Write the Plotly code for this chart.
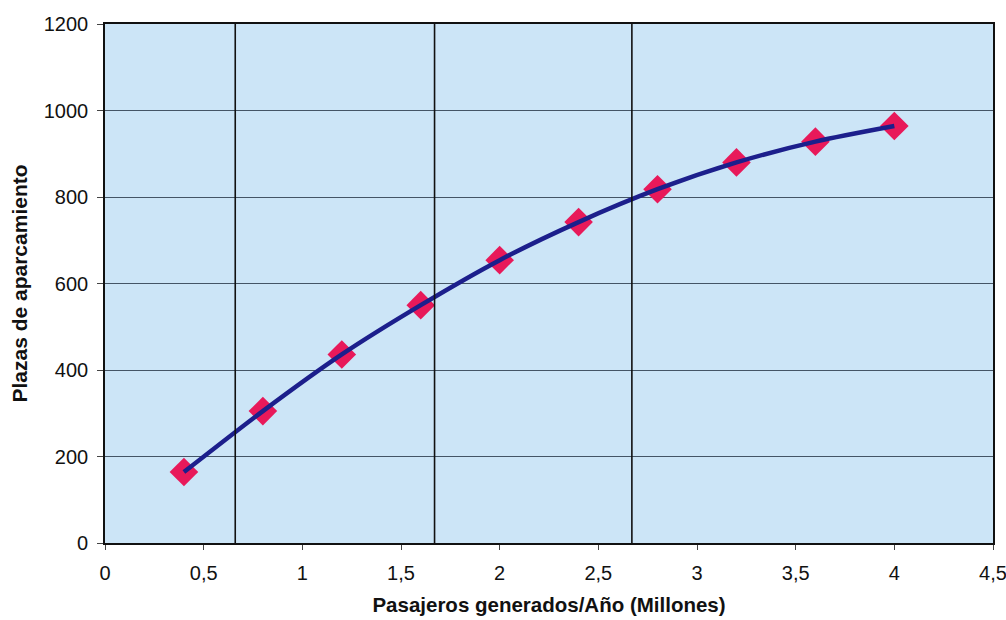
import plotly.graph_objects as go

pasajeros = [0.4, 0.8, 1.2, 1.6, 2.0, 2.4, 2.8, 3.2, 3.6, 4.0]
plazas = [164, 305, 436, 550, 654, 742, 818, 880, 928, 964]
x_ticks = [0, 0.5, 1, 1.5, 2, 2.5, 3, 3.5, 4, 4.5]
x_ticktext = ["0", "0,5", "1", "1,5", "2", "2,5", "3", "3,5", "4", "4,5"]
y_ticks = [0, 200, 400, 600, 800, 1000, 1200]
vlines = [0.66, 1.67, 2.67]

fig = go.Figure()
fig.add_trace(go.Scatter(
    x=pasajeros, y=plazas, mode="markers",
    marker=dict(symbol="diamond", size=22, color="#e8195a"),
    showlegend=False))
fig.add_trace(go.Scatter(
    x=pasajeros, y=plazas, mode="lines",
    line=dict(color="#1c1f8c", width=4.5, shape="spline", smoothing=0.8),
    showlegend=False, hoverinfo="skip"))

for v in vlines:
    fig.add_shape(type="line", xref="x", yref="paper", x0=v, x1=v, y0=0, y1=1,
                  line=dict(color="#111111", width=1.6), layer="above")

fig.update_layout(
    width=1006, height=620,
    margin=dict(l=105, r=13, t=24, b=77),
    paper_bgcolor="white", plot_bgcolor="#cce5f7",
    font=dict(family="Liberation Sans, Arial, sans-serif", color="#111111", size=20),
    xaxis=dict(range=[0, 4.5], tickvals=x_ticks, ticktext=x_ticktext,
               tickfont=dict(size=20), ticklabelstandoff=6, automargin=False,
               ticklabeloverflow="allow",
               showgrid=False, zeroline=False, showline=True, linecolor="#111111",
               linewidth=1.6, mirror=True, ticks="outside", ticklen=5,
               tickcolor="#444444",
               title=dict(text="<b>Pasajeros generados/Año (Millones)</b>",
                          font=dict(size=20.5), standoff=15)),
    yaxis=dict(range=[0, 1200], tickvals=y_ticks, tickfont=dict(size=20),
               ticklabelstandoff=5, automargin=False, ticklabeloverflow="allow",
               showgrid=True, gridcolor="#445566", gridwidth=0.8, zeroline=False,
               showline=True, linecolor="#111111", linewidth=1.6, mirror=True,
               ticks="outside", ticklen=6, tickcolor="#444444",
               title=dict(text="<b>Plazas de aparcamiento</b>",
                          font=dict(size=21), standoff=10)),
)

fig.write_html("out.html")
